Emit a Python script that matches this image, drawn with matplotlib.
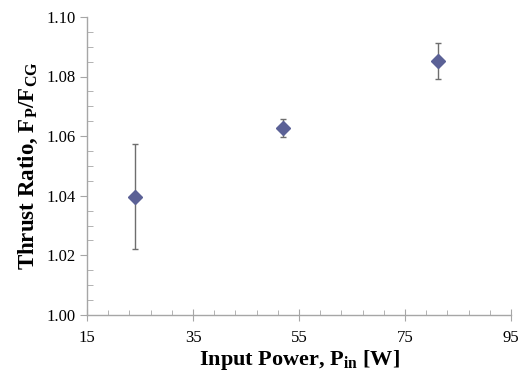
import matplotlib
matplotlib.use('Agg')
import matplotlib.pyplot as plt
import numpy as np
from matplotlib.ticker import MultipleLocator, FormatStrFormatter

plt.rcParams['font.family'] = 'Liberation Serif'
plt.rcParams['mathtext.fontset'] = 'custom'
plt.rcParams['mathtext.rm'] = 'Liberation Serif'
plt.rcParams['mathtext.bf'] = 'Liberation Serif:bold'

# data
power = [24, 52, 81.3]
ratio = [1.0397, 1.0626, 1.0852]
err_low = [0.0175, 0.0028, 0.0059]
err_high = [0.0177, 0.0032, 0.0062]

fig = plt.figure(figsize=(5.21, 3.75), dpi=100)
ax = fig.add_axes([0.167, 0.16, 0.814, 0.795])

ax.errorbar(power, ratio, yerr=[err_low, err_high], fmt='D', color='#5B6196',
            markersize=7, ecolor='#6e6e6e', elinewidth=1, capsize=2.5, capthick=1)

ax.set_xlim(15, 95)
ax.set_ylim(1.00, 1.10)
ax.set_xticks(np.arange(15, 96, 20))
ax.set_xticks(np.arange(15, 96, 4), minor=True)
ax.yaxis.set_major_locator(MultipleLocator(0.02))
ax.yaxis.set_minor_locator(MultipleLocator(0.005))
ax.yaxis.set_major_formatter(FormatStrFormatter('%.2f'))

for s in ['top', 'right']:
    ax.spines[s].set_visible(False)
for s in ['left', 'bottom']:
    ax.spines[s].set_color('#a6a6a6')
    ax.spines[s].set_linewidth(1)

ax.tick_params(axis='x', which='major', direction='inout', length=8, color='#a6a6a6', labelsize=12, pad=7)
ax.tick_params(axis='x', which='minor', direction='in', length=3.5, color='#a6a6a6')
ax.tick_params(axis='y', which='major', direction='out', length=5, color='#a6a6a6', labelsize=12, pad=3)
ax.tick_params(axis='y', which='minor', direction='in', length=4, color='#a6a6a6')

ax.set_xlabel(r'Input Power, P$_\mathbf{in}$ [W]', fontsize=16, fontweight='bold', labelpad=1)
ax.set_ylabel(r'Thrust Ratio, F$_\mathbf{P}$/F$_\mathbf{CG}$', fontsize=16.5, fontweight='bold', labelpad=5)

fig.savefig('out.png', dpi=100)
